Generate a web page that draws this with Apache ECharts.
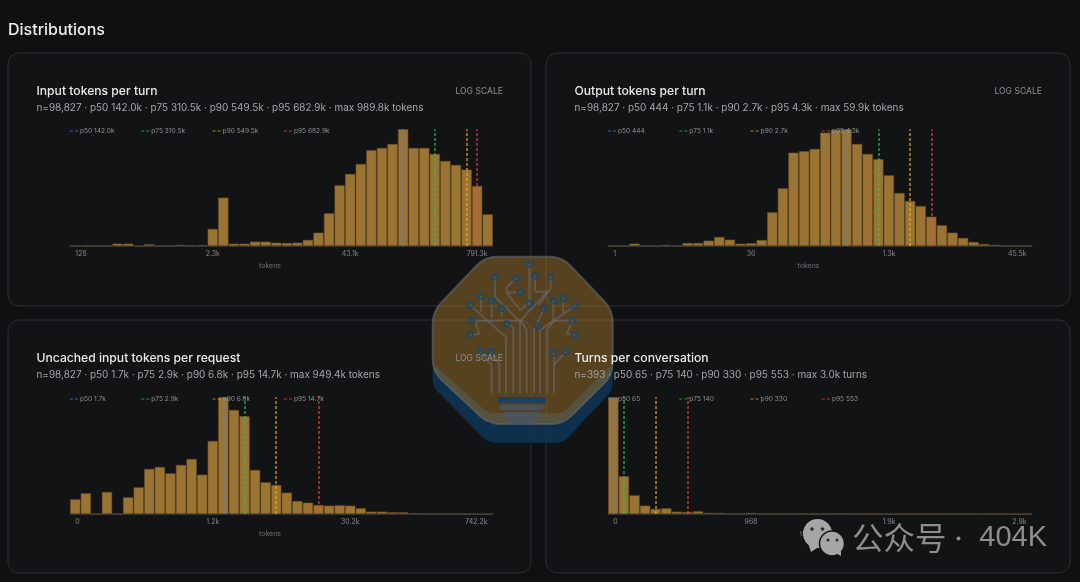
<!DOCTYPE html>
<html><head><meta charset="utf-8">
<style>html,body{margin:0;padding:0;background:#0f1012}#c{width:1080px;height:582px}</style>
<script src="https://cdn.jsdelivr.net/npm/echarts@6/dist/echarts.min.js"></script>
</head><body><div id="c"></div>
<script>
// bar heights (relative units, tallest bar = 350)
const inputTurn = [1,0.5,0.5,1,7,7,0,5,0.5,1,3,1.5,2.5,51,145,7,7,13,13,10,9,10,18,40,98,182,216,246,287,294,306,350,294,294,276,255,243,229,180,95];
const outputTurn = [0.3,0.3,7,0.5,0.5,3,1,9,9,16,27,19,7,8,18,101,173,280,284,291,340,348,350,306,276,260,212,159,135,120,88,62,40,24,12,6,3,1,0.5,0.3];
const uncachedReq = [44,62,0,66,0,50,80,135,141,122,147,165,118,219,350,312,293,132,95,87,64,39,34,27,25,26,25,17,7,7,5,5,2,1,0.5,0.5,0.3,0.3,0.2,0.2];
const turnsConv = [350,113,56,25,15,17,7,6,8,3,3,0.5,0.5,3,0.3,0.3,0.5,0.3,1,0.3,1,1,1,0.3,0.3,0.3,0.2,0.2,0.2,0.2,0.2,0.2,0.2,0.2,0.2,0.2,0.2,0.2,0.2,0.2];
const titles = ['Input tokens per turn','Output tokens per turn','Uncached input tokens per request','Turns per conversation'];
const subtitles = [
 'n=98,827 · p50 142.0k · p75 310.5k · p90 549.5k · p95 682.9k · max 989.8k tokens',
 'n=98,827 · p50 444 · p75 1.1k · p90 2.7k · p95 4.3k · max 59.9k tokens',
 'n=98,827 · p50 1.7k · p75 2.9k · p90 6.8k · p95 14.7k · max 949.4k tokens',
 'n=393 · p50 65 · p75 140 · p90 330 · p95 553 · max 3.0k turns'];
const tickLabels = [['128','2.3k','43.1k','791.3k'],['1','36','1.3k','45.5k'],['0','1.2k','30.2k','742.2k'],['0','968','1.9k','2.9k']];
const unitNames = ['tokens','tokens','tokens','turns'];
const pctNames = ['p50','p75','p90','p95'];
const pctLabels = [['142.0k','310.5k','549.5k','682.9k'],['444','1.1k','2.7k','4.3k'],['1.7k','2.9k','6.8k','14.7k'],['65','140','330','553']];
const pctBins = [[31,34,37,38],[22,25,28,30],[14,16,19,23],[0,1,4,7]];
const logScaleFlags = [true,true,true,false];
const allValues = [inputTurn,outputTurn,uncachedReq,turnsConv];

const pctColors = ['#4f7fdc','#22c55e','#f5a623','#ef4444'];
const FONT = 'Inter';
const cards = [[8,53,523,253],[546,53,524,253],[8,320,523,253],[546,320,524,253]];
const grids = [[70,129.3,423,116.7],[608,129.3,424,116.7],[70,397.3,423,116.7],[608,397.3,424,116.7]];

const option = {animation:false,backgroundColor:'#0f1012',grid:[],xAxis:[],yAxis:[],series:[],legend:[],graphic:[]};
const g = [];
g.push({type:'text',x:8,y:30,z:1,style:{text:'Distributions',font:'500 16px '+FONT,fill:'#eceef0',textVerticalAlign:'middle'}});
allValues.forEach((vals,k)=>{
  const [cx,cy,cw,ch]=cards[k], [gx,gy,gw,gh]=grids[k];
  g.push({type:'rect',z:0,shape:{x:cx,y:cy,width:cw,height:ch,r:11},style:{fill:'#121315',stroke:'#2c2e32',lineWidth:1}});
  g.push({type:'text',z:70,x:cx+28.5,y:cy+38,style:{text:titles[k],font:'500 12.15px '+FONT,fill:'#e8e9ea',textVerticalAlign:'middle'}});
  g.push({type:'text',z:70,x:cx+28.5,y:cy+55,style:{text:subtitles[k],font:'400 9.95px '+FONT,fill:'#a3a5a8',textVerticalAlign:'middle'}});
  if(logScaleFlags[k]) g.push({type:'text',z:70,x:cx+cw-28,y:cy+38.5,style:{text:'LOG SCALE',font:'400 8.6px '+FONT,fill:'#8f9194',textAlign:'right',textVerticalAlign:'middle'}});
  option.grid.push({left:gx,top:gy,width:gw,height:gh});
  const cats = vals.map((v,i)=> i%13===0 ? tickLabels[k][i/13] : '');
  option.xAxis.push({type:'category',gridIndex:k,data:cats,boundaryGap:true,name:unitNames[k],nameLocation:'middle',nameGap:16,
    nameTextStyle:{color:'#6f7174',fontSize:7,fontFamily:FONT,padding:[0,23,0,0]},
    axisLine:{lineStyle:{color:'#2e3034',width:1}},axisTick:{show:false},
    axisLabel:{interval:12,color:'#85878a',fontSize:7,fontFamily:FONT,margin:4.5,alignMinLabel:'left',alignMaxLabel:'right',hideOverlap:false}});
  option.yAxis.push({type:'value',gridIndex:k,min:0,max:350,show:false});
  option.series.push({type:'bar',xAxisIndex:k,yAxisIndex:k,data:vals,barWidth:'97%',silent:true,z:2,
    itemStyle:{color:'#9b7433',borderColor:'#6d5226',borderWidth:0.6}});
  pctNames.forEach((p,j)=>{
    const name=p+' '+pctLabels[k][j];
    option.series.push({type:'line',name:name,xAxisIndex:k,yAxisIndex:k,data:[],symbol:'none',z:3,
      lineStyle:{color:pctColors[j],width:1},itemStyle:{color:pctColors[j],opacity:0.75},
      markLine:{silent:true,symbol:'none',label:{show:false},animation:false,
        lineStyle:{color:pctColors[j],type:[3,2],width:1.5,opacity:0.78},
        data:[{xAxis:pctBins[k][j]}]}});
    option.legend.push({data:[{name:name,icon:'path://M0 0h3v1H0z M5 0h3v1H5z'}],left:gx+j*71.3,top:gy-1.8,padding:0,itemWidth:8,itemHeight:1.2,itemGap:0,z:4,selectedMode:false,
      textStyle:{color:'#8e9093',fontSize:6.6,fontFamily:FONT,padding:[0,0,0,-3]}});
  });
});

// logo overlay (decoration, drawn in its own 3x space)
function rounded(pts,r){
  const out=[];const n=pts.length;
  pts.forEach((p,i)=>{
    const a=pts[(i+n-1)%n],b=pts[(i+1)%n];
    const la=Math.hypot(a[0]-p[0],a[1]-p[1]),lb=Math.hypot(b[0]-p[0],b[1]-p[1]);
    const s=[p[0]+(a[0]-p[0])*r/la,p[1]+(a[1]-p[1])*r/la],e=[p[0]+(b[0]-p[0])*r/lb,p[1]+(b[1]-p[1])*r/lb];
    for(let t=0;t<=1.001;t+=0.2){
      const u=1-t;
      out.push([u*u*s[0]+2*u*t*p[0]+t*t*e[0],u*u*s[1]+2*u*t*p[1]+t*t*e[1]]);
    }
  });
  return out;
}
const L={x:420,y:250,s:1/3};
const tree=[
 [[215,430],[215,345],[180,305]],[[238,430],[238,340],[213,305]],[[258,430],[258,262],[150,165]],
 [[280,430],[280,232],[260,222]],[[300,430],[300,215],[225,140],[225,80]],[[320,430],[320,240],[302,212],[165,212]],
 [[342,430],[342,240],[372,175]],[[360,430],[360,240],[465,168]],[[382,430],[382,240],[402,212],[458,212]],
 [[402,430],[402,310]],[[402,345],[438,305]],[[183,138],[183,185]],[[215,155],[215,205]],[[245,175],[245,200]],
 [[288,85],[260,112],[260,128],[302,126]],[[260,128],[300,180],[330,160]],[[328,42],[328,170]],
 [[345,78],[345,125],[385,125],[355,165]],[[392,80],[392,115],[330,180],[300,215]],[[400,152],[400,210]],[[430,145],[430,190]],
 [[165,212],[178,252],[150,255]],[[458,212],[440,252],[465,255]]];
const dots=[[180,305],[213,305],[150,165],[260,222],[225,80],[155,212],[372,175],[465,168],[458,212],[400,310],[438,305],
 [183,138],[215,152],[245,175],[288,85],[302,126],[328,42],[345,78],[392,80],[330,160],[400,152],[430,145],[150,255],[465,255],[355,228]];
const lc=[];
const faceShape=[[195,20],[425,20],[578,180],[578,375],[430,522],[205,522],[38,365],[38,185]];
const baseShape=[[38,340],[38,410],[205,578],[430,578],[578,420],[578,340],[430,490],[205,490]];
lc.push({type:'polygon',z:50,shape:{points:rounded(baseShape,22)},style:{fill:'rgba(16,52,82,0.9)'}});
lc.push({type:'polygon',z:51,shape:{points:rounded(faceShape,38)},style:{fill:'rgba(170,122,45,0.46)',stroke:'rgba(95,100,105,0.65)',lineWidth:6}});
tree.forEach(t=>lc.push({type:'polyline',z:52,shape:{points:t},style:{fill:null,stroke:'rgba(105,108,115,0.55)',lineWidth:6,lineJoin:'round'}}));
dots.forEach(d=>lc.push({type:'circle',z:53,shape:{cx:d[0],cy:d[1],r:9},style:{fill:'rgba(80,65,40,0.3)',stroke:'#1b486c',lineWidth:5}}));
[[235,450,378,450],[240,472,370,472],[250,494,360,494],[262,514,345,514]].forEach((b,i)=>
  lc.push({type:'line',z:53,shape:{x1:b[0],y1:b[1],x2:b[2],y2:b[3]},style:{stroke:i===0?'#174065':'rgba(70,85,100,0.85)',lineWidth:16}}));
g.push({type:'group',x:L.x,y:L.y,scaleX:L.s,scaleY:L.s,children:lc});

// WeChat-style watermark
g.push({type:'circle',z:60,shape:{cx:817.5,cy:533.5,r:14.5},style:{fill:'#a6a6a6'}});
g.push({type:'polygon',z:60,shape:{points:[[808,543],[811,552],[820,546]]},style:{fill:'#a6a6a6'}});
g.push({type:'circle',z:61,shape:{cx:832,cy:543.5,r:12.5},style:{fill:'#a6a6a6',stroke:'#141517',lineWidth:1.5}});
g.push({type:'polygon',z:61,shape:{points:[[836,553],[841,556],[841,551]]},style:{fill:'#a6a6a6'}});
[[812,529,1.8],[822.5,529,1.8],[828,540,1.5],[837,540,1.5]].forEach(e=>g.push({type:'circle',z:62,shape:{cx:e[0],cy:e[1],r:e[2]},style:{fill:'#2a2a2c'}}));
g.push({type:'text',z:60,x:852,y:538,style:{text:'公众号',font:'400 31.5px "Noto Sans CJK SC"',fill:'#8d8d8d',textVerticalAlign:'middle'}});
g.push({type:'circle',z:60,shape:{cx:958.5,cy:538.5,r:2},style:{fill:'#8d8d8d'}});
g.push({type:'text',z:60,x:1047,y:538,style:{text:'404K',font:'400 29px "Liberation Sans"',fill:'#8d8d8d',textVerticalAlign:'middle',textAlign:'right'}});
option.graphic=[{elements:g}];
echarts.init(document.getElementById('c')).setOption(option);
</script></body></html>
